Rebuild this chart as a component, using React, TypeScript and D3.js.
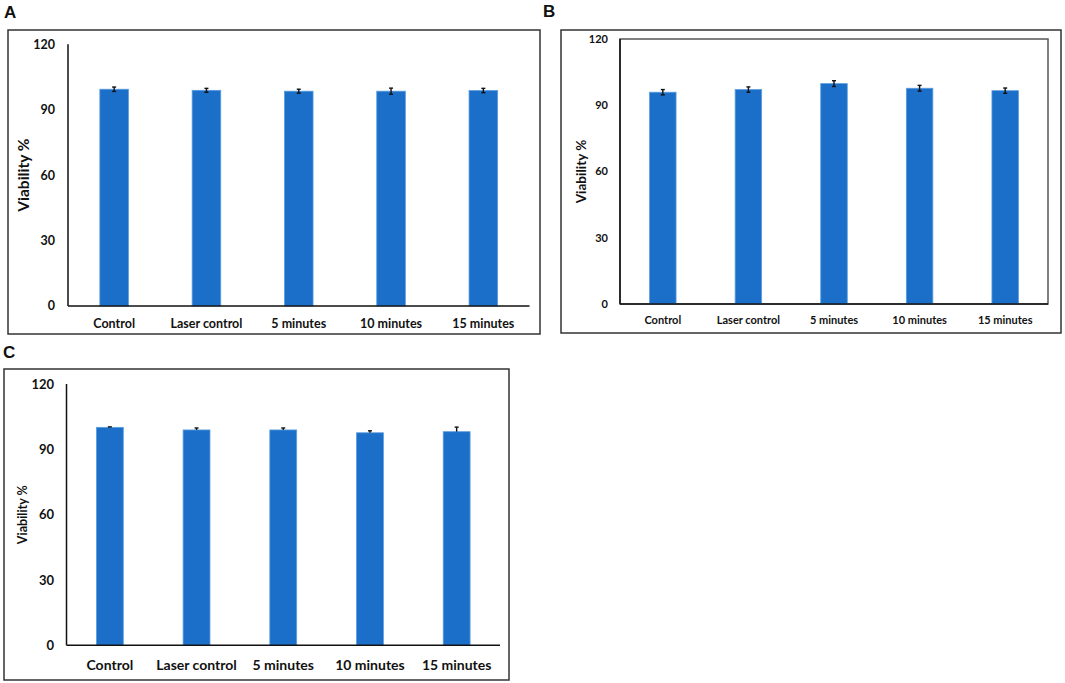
import React from 'react';
import * as d3 from 'd3';

// Data
const categories = ['Control', 'Laser control', '5 minutes', '10 minutes', '15 minutes'];
const yTicks = [0, 30, 60, 90, 120];

const valuesA = [99.4, 98.9, 98.5, 98.5, 98.8];
const errorsA = [1.0, 0.9, 0.9, 1.4, 1.0];

const valuesB = [95.9, 97.1, 99.8, 97.7, 96.6];
const errorsB = [1.2, 1.2, 1.3, 1.3, 1.2];

const valuesC = [100.1, 98.9, 98.9, 97.6, 98.1];
const errorsC = [0.2, 0.9, 0.9, 0.9, 2.1];

const FONT = 'Lato, Carlito, "Open Sans", sans-serif';
const BAR_FILL = '#1b6fc8';
const BAR_EDGE = '#5c9de0';

interface PanelProps {
  label: string;
  labelX: number;
  labelY: number;
  frame: { x: number; y: number; w: number; h: number };
  plot: { left: number; right: number; top: number; bottom: number };
  values: number[];
  errors: number[];
  upperOnly?: boolean;
  boxed?: boolean;
  tickSize: number;
  tickRight: number;
  catSize: number;
  catY: number;
  titleSize: number;
  titleX: number;
}

function Panel(p: PanelProps) {
  const x = d3
    .scaleBand<string>()
    .domain(categories)
    .range([p.plot.left, p.plot.right])
    .paddingInner(0.69)
    .paddingOuter(0.345);
  const y = d3.scaleLinear().domain([0, 120]).range([p.plot.bottom, p.plot.top]);
  const bw = x.bandwidth();
  const midY = (p.plot.top + p.plot.bottom) / 2;

  return (
    <g>
      <text x={p.labelX} y={p.labelY} fontFamily="Arial, 'Liberation Sans', sans-serif" fontWeight="bold" fontSize={17} fill="#111">
        {p.label}
      </text>
      <rect x={p.frame.x} y={p.frame.y} width={p.frame.w} height={p.frame.h} fill="white" stroke="#333" strokeWidth={1.5} />
      {p.boxed && (
        <rect
          x={p.plot.left}
          y={p.plot.top}
          width={p.plot.right - p.plot.left}
          height={p.plot.bottom - p.plot.top}
          fill="none"
          stroke="#555"
          strokeWidth={1.5}
        />
      )}
      {/* bars */}
      {categories.map((c, i) => (
        <rect
          key={c}
          x={x(c)}
          y={y(p.values[i])}
          width={bw}
          height={y(0) - y(p.values[i])}
          fill={BAR_FILL}
          stroke={BAR_EDGE}
          strokeWidth={0.8}
        />
      ))}
      {/* error bars */}
      {categories.map((c, i) => {
        const cx = (x(c) as number) + bw / 2;
        const hi = y(p.values[i] + p.errors[i]);
        const lo = p.upperOnly ? y(p.values[i]) : y(p.values[i] - p.errors[i]);
        return (
          <g key={c} stroke="#111" strokeWidth={1.4}>
            <line x1={cx} x2={cx} y1={hi} y2={lo} />
            <line x1={cx - 2} x2={cx + 2} y1={hi} y2={hi} />
            {!p.upperOnly && <line x1={cx - 2} x2={cx + 2} y1={lo} y2={lo} />}
          </g>
        );
      })}
      {/* axes */}
      <line x1={p.plot.left} x2={p.plot.left} y1={p.plot.top} y2={p.plot.bottom} stroke="#111" strokeWidth={1.5} />
      <line x1={p.plot.left} x2={p.plot.right} y1={p.plot.bottom} y2={p.plot.bottom} stroke="#111" strokeWidth={1.5} />
      {yTicks.map((t) => (
        <text
          key={t}
          x={p.tickRight}
          y={y(t)}
          dy="0.35em"
          textAnchor="end"
          fontFamily={FONT}
          fontWeight="bold"
          fontSize={p.tickSize}
          fill="#111"
        >
          {t}
        </text>
      ))}
      {categories.map((c) => (
        <text
          key={c}
          x={(x(c) as number) + bw / 2}
          y={p.catY}
          dy="0.35em"
          textAnchor="middle"
          fontFamily={FONT}
          fontWeight="bold"
          fontSize={p.catSize}
          fill="#111"
        >
          {c}
        </text>
      ))}
      <text
        transform={`translate(${p.titleX},${midY}) rotate(-90)`}
        dy="0.35em"
        textAnchor="middle"
        fontFamily={FONT}
        fontWeight="bold"
        fontSize={p.titleSize}
        fill="#111"
      >
        Viability %
      </text>
    </g>
  );
}

export default function App() {
  return (
    <svg width={1065} height={683} style={{ position: 'absolute', left: 0, top: 0, background: 'white' }}>
      <Panel
        label="A"
        labelX={4}
        labelY={18}
        frame={{ x: 8, y: 30, w: 532, h: 304 }}
        plot={{ left: 68, right: 529.5, top: 44.3, bottom: 306 }}
        values={valuesA}
        errors={errorsA}
        tickSize={12.5}
        tickRight={55}
        catSize={12.5}
        catY={324}
        titleSize={15.5}
        titleX={23.5}
      />
      <Panel
        label="B"
        labelX={543}
        labelY={17}
        frame={{ x: 561, y: 30, w: 500, h: 303 }}
        plot={{ left: 620, right: 1048, top: 39, bottom: 304 }}
        values={valuesB}
        errors={errorsB}
        boxed
        tickSize={11}
        tickRight={608}
        catSize={11}
        catY={320}
        titleSize={13.5}
        titleX={581}
      />
      <Panel
        label="C"
        labelX={3}
        labelY={358}
        frame={{ x: 4, y: 369, w: 505, h: 311 }}
        plot={{ left: 66.5, right: 500, top: 384, bottom: 645.3 }}
        values={valuesC}
        errors={errorsC}
        upperOnly
        tickSize={13}
        tickRight={54}
        catSize={14}
        catY={665}
        titleSize={12.5}
        titleX={23}
      />
    </svg>
  );
}
